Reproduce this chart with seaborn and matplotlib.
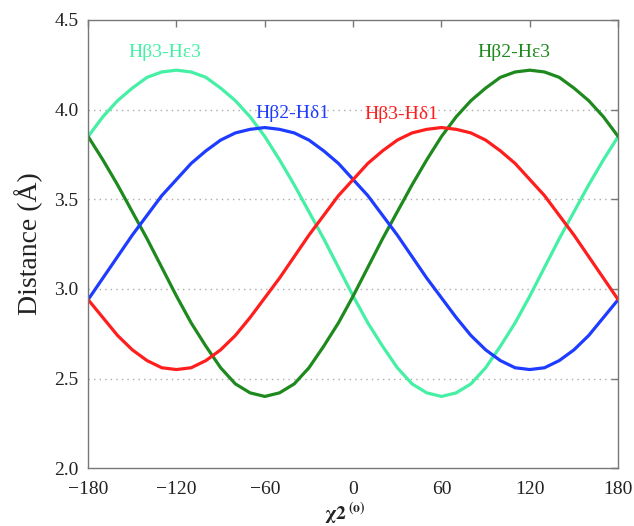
import pandas as pd
import matplotlib
matplotlib.use('Agg')
import matplotlib.pyplot as plt
import seaborn as sns

# chi2 angle (degrees) and distances
chi2 = list(range(-180, 181, 10))

hb3_he3 = [3.85, 3.96, 4.05, 4.12, 4.18, 4.21, 4.22, 4.21, 4.18, 4.12, 4.05, 3.96, 3.85,
           3.72, 3.58, 3.43, 3.28, 3.12, 2.96, 2.81, 2.68, 2.56, 2.47, 2.42, 2.40, 2.42,
           2.47, 2.56, 2.68, 2.81, 2.96, 3.12, 3.28, 3.43, 3.58, 3.72, 3.85]
hb2_he3 = [3.85, 3.72, 3.58, 3.43, 3.28, 3.12, 2.96, 2.81, 2.68, 2.56, 2.47, 2.42, 2.40,
           2.42, 2.47, 2.56, 2.68, 2.81, 2.96, 3.12, 3.28, 3.43, 3.58, 3.72, 3.85, 3.96,
           4.05, 4.12, 4.18, 4.21, 4.22, 4.21, 4.18, 4.12, 4.05, 3.96, 3.85]
hb2_hd1 = [2.94, 3.06, 3.18, 3.30, 3.41, 3.52, 3.61, 3.70, 3.77, 3.83, 3.87, 3.89, 3.90,
           3.89, 3.87, 3.83, 3.77, 3.70, 3.61, 3.52, 3.41, 3.30, 3.18, 3.06, 2.95, 2.84,
           2.74, 2.66, 2.60, 2.56, 2.55, 2.56, 2.60, 2.66, 2.74, 2.84, 2.94]
hb3_hd1 = [2.94, 2.84, 2.74, 2.66, 2.60, 2.56, 2.55, 2.56, 2.60, 2.66, 2.74, 2.84, 2.95,
           3.06, 3.18, 3.30, 3.41, 3.52, 3.61, 3.70, 3.77, 3.83, 3.87, 3.89, 3.90, 3.89,
           3.87, 3.83, 3.77, 3.70, 3.61, 3.52, 3.41, 3.30, 3.18, 3.06, 2.94]

series_names = ['Hβ3-Hε3', 'Hβ2-Hε3', 'Hβ2-Hδ1', 'Hβ3-Hδ1']
series_vals = [hb3_he3, hb2_he3, hb2_hd1, hb3_hd1]
colors = ['#45F0A5', '#1E8A1E', '#1E3CFF', '#FF1E1E']

df = pd.concat([pd.DataFrame({'chi2': chi2, 'dist': v, 'pair': n})
                for n, v in zip(series_names, series_vals)], ignore_index=True)

sns.set_style('white')
plt.rcParams['font.family'] = ['Liberation Serif', 'DejaVu Serif']
plt.rcParams['mathtext.fontset'] = 'stix'

fig, ax = plt.subplots(figsize=(6.34, 5.26), dpi=100)
fig.subplots_adjust(left=0.139, right=0.975, top=0.962, bottom=0.110)

sns.lineplot(data=df, x='chi2', y='dist', hue='pair', palette=dict(zip(series_names, colors)),
             linewidth=2.3, legend=False, ax=ax, sort=False)

ax.set_xlim(-180, 180)
ax.set_ylim(2.0, 4.5)
ax.set_xticks([-180, -120, -60, 0, 60, 120, 180])
ax.set_xticklabels(['\u2212180', '\u2212120', '\u221260', '0', '60', '120', '180'])
ax.set_yticks([2.0, 2.5, 3.0, 3.5, 4.0, 4.5])
ax.set_yticklabels(['2.0', '2.5', '3.0', '3.5', '4.0', '4.5'])
ax.tick_params(direction='in', top=True, right=True, length=5, width=1,
               color='#777777', labelsize=14, labelcolor='#222222')
ax.tick_params(axis='x', pad=9)
ax.tick_params(axis='y', pad=7)

for y in [2.5, 3.0, 3.5, 4.0]:
    ax.axhline(y, color='#aaaaaa', linestyle=(0, (1, 3)), linewidth=1, zorder=0)

for s in ax.spines.values():
    s.set_color('#777777')
    s.set_linewidth(1)

ax.set_ylabel('Distance (Å)', fontsize=20, color='#222222', labelpad=8)
ax.set_xlabel(r'$\mathbf{\chi 2}\,^{\mathbf{(o)}}$', fontsize=14, color='#222222')
ax.xaxis.set_label_coords(0.485, -0.072)

# curve labels
label_text = ['Hβ3-Hε3', 'Hβ2-Hδ1', 'Hβ3-Hδ1', 'Hβ2-Hε3']
label_color = ['#45F0A5', '#1E3CFF', '#FF1E1E', '#1E8A1E']
label_pos = [(-128, 4.32), (-41, 3.98), (33, 3.97), (109, 4.32)]
for n, c, (lx, ly) in zip(label_text, label_color, label_pos):
    ax.text(lx, ly, n, color=c, fontsize=14, ha='center', va='center')

plt.savefig('out.png', dpi=100)
